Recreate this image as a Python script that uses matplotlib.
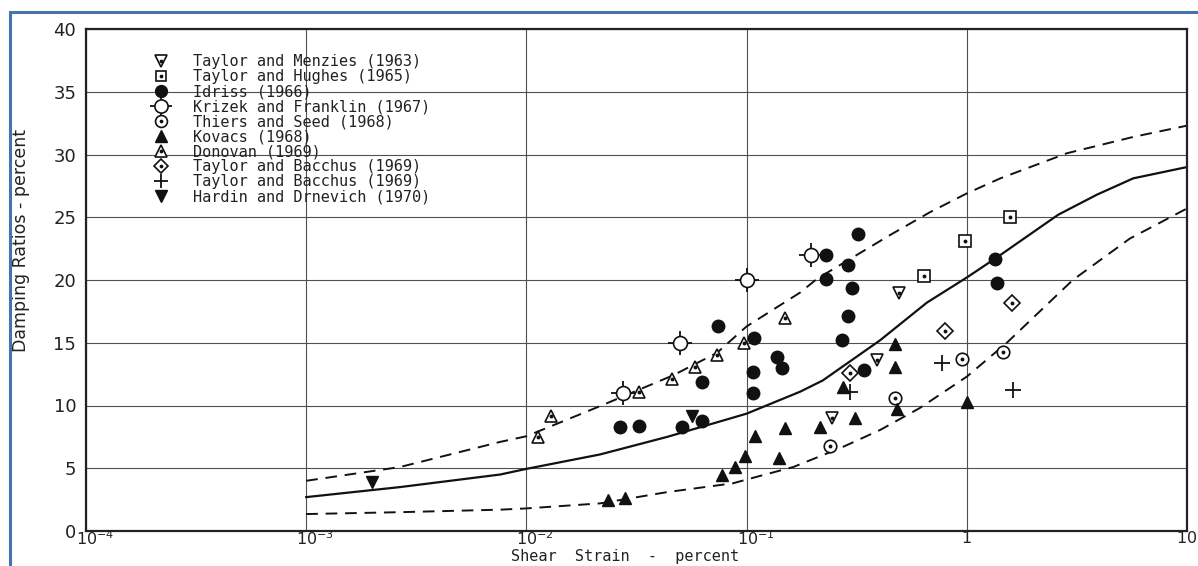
import matplotlib
matplotlib.use("Agg")
import matplotlib.pyplot as plt
from matplotlib.patches import Rectangle
from matplotlib.legend_handler import HandlerTuple
from matplotlib.transforms import ScaledTranslation

# ---------------- data ----------------
tm_x = [0.49, 0.39, 0.245]            # Taylor and Menzies (1963)
tm_y = [19.0, 13.6, 9.0]
th_x = [0.64, 0.98, 1.57]             # Taylor and Hughes (1965)
th_y = [20.3, 23.1, 25.0]
idriss_x = [0.0266, 0.0325, 0.051, 0.063, 0.063, 0.074, 0.107, 0.107, 0.108,
            0.137, 0.145, 0.23, 0.23, 0.27, 0.29, 0.29, 0.30, 0.32, 0.34, 1.34, 1.37]
idriss_y = [8.3, 8.4, 8.3, 8.8, 11.9, 16.3, 11.0, 12.7, 15.4,
            13.9, 13.0, 22.0, 20.1, 15.2, 21.2, 17.1, 19.4, 23.7, 12.8, 21.7, 19.8]
kf_x = [0.0275, 0.05, 0.1, 0.196]     # Krizek and Franklin (1967)
kf_y = [11.0, 15.0, 20.0, 22.0]
ts_x = [0.24, 0.47, 0.95, 1.46]       # Thiers and Seed (1968)
ts_y = [6.8, 10.6, 13.7, 14.3]
kov_x = [0.0235, 0.028, 0.077, 0.089, 0.098, 0.109, 0.14, 0.15, 0.215, 0.275,
         0.31, 0.47, 0.47, 0.48, 1.0]
kov_y = [2.5, 2.6, 4.5, 5.1, 6.0, 7.6, 5.8, 8.2, 8.3, 11.5,
         9.0, 14.9, 13.1, 9.7, 10.3]
don_x = [0.0113, 0.013, 0.0325, 0.046, 0.058, 0.073, 0.097, 0.15]
don_y = [7.5, 9.2, 11.1, 12.1, 13.1, 14.0, 15.0, 17.0]
tbd_x = [0.295, 0.80, 1.6]            # Taylor and Bacchus (diamond)
tbd_y = [12.6, 15.9, 18.2]
tbp_x = [0.295, 0.77, 1.62]           # Taylor and Bacchus (plus)
tbp_y = [11.1, 13.4, 11.2]
hd_x = [0.002, 0.0565]                # Hardin and Drnevich (1970)
hd_y = [3.9, 9.2]

# curves
mid_x = [0.001, 0.00267, 0.0076, 0.01, 0.0216, 0.0436, 0.1, 0.175, 0.222, 0.404,
         0.659, 1.0, 1.37, 2.6, 3.9, 5.7, 10]
mid_y = [2.7, 3.5, 4.5, 4.95, 6.1, 7.5, 9.35, 11.1, 12.0, 15.2,
         18.2, 20.2, 21.8, 25.2, 26.8, 28.1, 29.0]
up_x = [0.001, 0.00267, 0.0076, 0.01, 0.0216, 0.0463, 0.0734, 0.1, 0.175, 0.209,
        0.45, 0.68, 1.0, 1.42, 2.85, 5.7, 10]
up_y = [4.0, 5.1, 7.1, 7.55, 9.95, 12.4, 14.2, 16.3, 19.0, 20.1,
        23.6, 25.4, 26.9, 28.1, 30.1, 31.4, 32.3]
lo_x = [0.001, 0.00267, 0.0076, 0.01, 0.0216, 0.0436, 0.0867, 0.1, 0.163, 0.266,
        0.404, 0.612, 1.0, 1.52, 3.03, 5.5, 10]
lo_y = [1.35, 1.5, 1.7, 1.8, 2.2, 3.1, 3.8, 4.1, 5.1, 6.6,
        8.05, 9.8, 12.3, 15.0, 20.0, 23.3, 25.7]

x_ticks = [1e-4, 1e-3, 1e-2, 1e-1, 1, 10]
x_tick_labels = [r"$10^{-4}$", r"$10^{-3}$", r"$10^{-2}$", r"$10^{-1}$", r"$1$", r"$10$"]
y_ticks = [0, 5, 10, 15, 20, 25, 30, 35, 40]

labels = ["Taylor and Menzies (1963)", "Taylor and Hughes (1965)", "Idriss (1966)",
          "Krizek and Franklin (1967)", "Thiers and Seed (1968)", "Kovacs (1968)",
          "Donovan (1969)", "Taylor and Bacchus (1969)", "Taylor and Bacchus (1969)",
          "Hardin and Drnevich (1970)"]

# ---------------- figure ----------------
plt.rcParams['font.family'] = ['DejaVu Sans']
plt.rcParams['mathtext.fontset'] = 'dejavusans'
fig = plt.figure(figsize=(11.98, 5.66), dpi=100)
fig.patches.append(Rectangle((10/1198, -0.1), 1.2, 1 - 12/566 + 0.1,
                             transform=fig.transFigure, fill=False,
                             edgecolor='#4673a9', linewidth=2.2, zorder=0))
ax = fig.add_axes([86/1198, 35/566, 1101/1198, 502/566])
ax.set_xscale('log')
ax.set_xlim(1e-4, 10)
ax.set_ylim(0, 40)
ax.set_xticks(x_ticks)
ax.set_xticklabels(x_tick_labels)
ax.xaxis.set_minor_locator(matplotlib.ticker.NullLocator())
ax.set_yticks(y_ticks)
ax.tick_params(axis='both', length=0, colors='#222222')
ax.tick_params(axis='y', pad=7, labelsize=13)
ax.tick_params(axis='x', pad=-1, labelsize=11.5)
shift = ScaledTranslation(9/100, 0, fig.dpi_scale_trans)
for lab in ax.get_xticklabels()[:4]:
    lab.set_transform(lab.get_transform() + shift)
ax.grid(True, color='#505050', linewidth=0.8, zorder=1)
ax.set_axisbelow(True)
for s in ax.spines.values():
    s.set_linewidth(1.6)
    s.set_color('#222222')

# curves
ax.plot(mid_x, mid_y, color='#111111', lw=1.6, zorder=2)
ax.plot(up_x, up_y, color='#111111', lw=1.4, ls=(0, (6, 4)), zorder=2)
ax.plot(lo_x, lo_y, color='#111111', lw=1.4, ls=(0, (6, 4)), zorder=2)

ms = 9
mew = 1.2
k = '#111111'
def opn(x, y, m, size=ms):
    return ax.plot(x, y, ls='none', marker=m, ms=size, mfc='white', mec=k, mew=mew, zorder=4)[0]
def dot(x, y):
    return ax.plot(x, y, ls='none', marker='o', ms=1.8, mfc=k, mec=k, zorder=5)[0]

h_tm = (opn(tm_x, tm_y, 'v'), dot(tm_x, tm_y))
h_th = (opn(th_x, th_y, 's', 8), dot(th_x, th_y))
h_id = ax.plot(idriss_x, idriss_y, ls='none', marker='o', ms=ms, mfc=k, mec=k, zorder=4)[0]
kf_plus = ax.plot(kf_x, kf_y, ls='none', marker='+', ms=17, mec=k, mew=1.3, zorder=4)[0]
kf_circ = opn(kf_x, kf_y, 'o', 10)
h_kf = (kf_plus, kf_circ)
h_ts = (opn(ts_x, ts_y, 'o'), dot(ts_x, ts_y))
h_kov = ax.plot(kov_x, kov_y, ls='none', marker='^', ms=ms, mfc=k, mec=k, zorder=4)[0]
h_don = (opn(don_x, don_y, '^'), dot(don_x, don_y))
h_tbd = (opn(tbd_x, tbd_y, 'D', 8), dot(tbd_x, tbd_y))
h_tbp = ax.plot(tbp_x, tbp_y, ls='none', marker='+', ms=11, mec=k, mew=1.3, zorder=4)[0]
h_hd = ax.plot(hd_x, hd_y, ls='none', marker='v', ms=ms, mfc=k, mec=k, zorder=4)[0]

handles = [h_tm, h_th, h_id, h_kf, h_ts, h_kov, h_don, h_tbd, h_tbp, h_hd]
leg = ax.legend(handles, labels, loc='upper left', bbox_to_anchor=(0.058, 0.950),
                frameon=False, prop={'family': 'DejaVu Sans Mono', 'size': 11},
                labelspacing=0.0, handlelength=1.5, handletextpad=1.3,
                borderpad=0, borderaxespad=0, markerscale=0.95,
                handler_map={tuple: HandlerTuple(ndivide=1, pad=0)})
for t in leg.get_texts():
    t.set_color('#222222')

ax.set_xlabel("Shear  Strain  -  percent", fontsize=11, family='DejaVu Sans Mono',
              color='#222222', va='bottom')
ax.xaxis.set_label_coords(0.49, -0.066)
ax.set_ylabel("Damping Ratios - percent", fontsize=12.5, color='#222222')
ax.yaxis.set_label_coords(-0.051, 0.578)

fig.savefig("out.png", dpi=100)
